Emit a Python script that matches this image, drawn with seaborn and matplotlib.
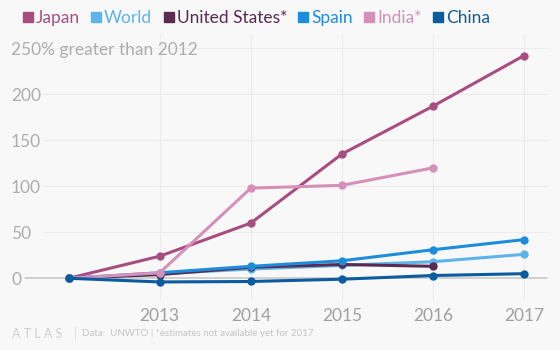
import numpy as np
import pandas as pd
import seaborn as sns
import matplotlib.pyplot as plt
from matplotlib.lines import Line2D

# === data (percent growth vs 2012) ===
years = [2012, 2013, 2014, 2015, 2016, 2017]
countries = ['Japan', 'World', 'United States*', 'Spain', 'India*', 'China']
japan = [0, 24, 60, 135, 187, 242]
world = [0, 5, 10, 14, 18, 26]
usa = [0, 4, 12, 15, 13, np.nan]
spain = [0, 6, 13, 19, 31, 42]
india = [0, 6, 98, 101, 120, np.nan]
china = [0, -4, -3.5, -1, 3, 5]
colors = ['#a84d80', '#5bb5e8', '#5a2a50', '#1c8ddb', '#d68fb9', '#0b5c9e']

df = pd.DataFrame({
    'year': years * 6,
    'value': japan + world + usa + spain + india + china,
    'country': [c for c in countries for _ in years],
})

bg = '#f8f8f8'
sns.set_style('white')
plt.rcParams['font.family'] = ['Lato', 'DejaVu Sans']

fig = plt.figure(figsize=(5.6, 3.5), dpi=100, facecolor=bg)
ax = fig.add_axes([43 / 560, 49 / 350, 504 / 560, 267 / 350], facecolor=bg)

# grid
for v in [50, 100, 150, 200, 250]:
    ax.axhline(v, color='#ececec', lw=0.8, zorder=0)
for yr in [2013, 2014, 2015, 2016, 2017]:
    ax.axvline(yr, color='#ececec', lw=0.8, zorder=0)
ax.axhline(0, xmin=-0.036, color='#c8c8c8', lw=1.2, zorder=1, clip_on=False)

sns.lineplot(data=df, x='year', y='value', hue='country', hue_order=countries,
             palette=colors, marker='o', markersize=6, markeredgewidth=0,
             linewidth=2.2, legend=False, ax=ax, zorder=3)

ax.set_xlim(2011.718, 2017.253)
ax.set_ylim(-24.7, 265.5)
ax.set_xticks([2013, 2014, 2015, 2016, 2017])
ax.set_xticklabels(['2013', '2014', '2015', '2016', '2017'], color='#a0a0a0', fontsize=12.5)
ax.set_yticks([0, 50, 100, 150, 200, 250])
ax.set_yticklabels(['0', '50', '100', '150', '200', '250% greater than 2012'],
                   color='#adadad', fontsize=12.5, ha='left')
ax.tick_params(axis='y', length=0, pad=23)
ax.tick_params(axis='x', length=0, pad=5)
ax.set_xlabel('')
ax.set_ylabel('')
for s in ax.spines.values():
    s.set_visible(False)

# legend
handles = [Line2D([], [], marker='s', linestyle='', color=c, markersize=7) for c in colors]
leg = fig.legend(handles, countries, loc='upper left', bbox_to_anchor=(0.008, 1.015),
                 ncol=6, frameon=False, handletextpad=0.0, columnspacing=0.5,
                 handlelength=0.9, fontsize=12.5)
for t, c in zip(leg.get_texts(), colors):
    t.set_color(c)

# footer
fig.text(12 / 560, 1 - 334 / 350, 'A T L A S', color='#cfcfcf', fontsize=9, va='center')
fig.text(74 / 560, 1 - 334 / 350, '|', color='#dddddd', fontsize=9, va='center')
fig.text(82 / 560, 1 - 334 / 350, 'Data:  UNWTO | *estimates not available yet for 2017',
         color='#c4c4c4', fontsize=7, va='center')

fig.savefig('out.png', dpi=100, facecolor=bg)
